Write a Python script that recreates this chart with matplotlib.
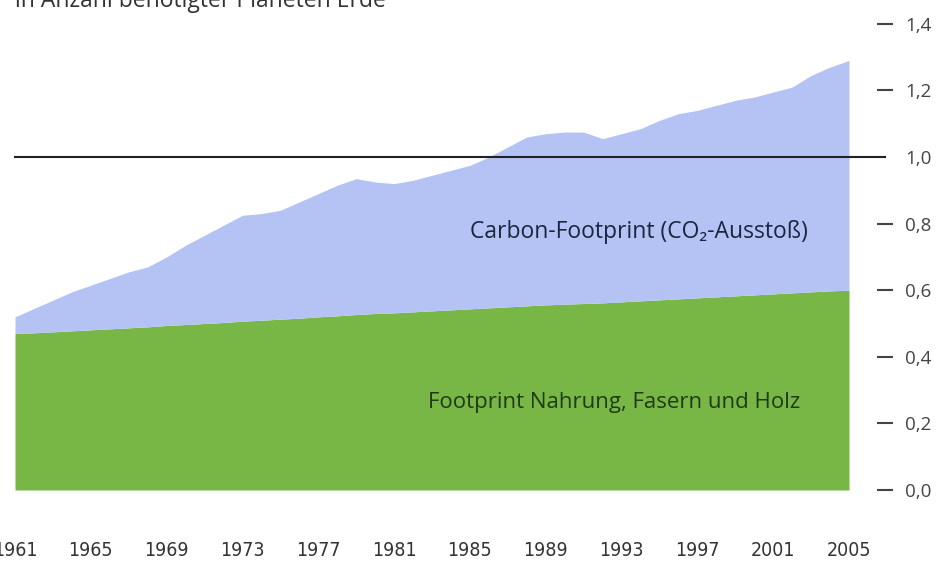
import matplotlib
matplotlib.use("Agg")
import matplotlib.pyplot as plt
import matplotlib.transforms as mtransforms

years = list(range(1961, 2006))
total = [0.52, 0.545, 0.57, 0.595, 0.615, 0.635, 0.655, 0.67, 0.70, 0.735,
         0.765, 0.795, 0.825, 0.83, 0.84, 0.865, 0.89, 0.915, 0.935, 0.925,
         0.92, 0.93, 0.945, 0.96, 0.975, 1.0, 1.03, 1.06, 1.07, 1.075,
         1.075, 1.055, 1.07, 1.085, 1.11, 1.13, 1.14, 1.155, 1.17, 1.18,
         1.195, 1.21, 1.245, 1.27, 1.29]
food = [0.470, 0.472, 0.475, 0.478, 0.481, 0.484, 0.487, 0.490, 0.494, 0.497,
        0.500, 0.503, 0.507, 0.510, 0.513, 0.516, 0.520, 0.523, 0.527, 0.530,
        0.532, 0.535, 0.538, 0.541, 0.544, 0.547, 0.550, 0.553, 0.556, 0.558,
        0.560, 0.562, 0.565, 0.568, 0.571, 0.574, 0.577, 0.580, 0.583, 0.586,
        0.589, 0.592, 0.595, 0.598, 0.600]
xtick_years = [1961, 1965, 1969, 1973, 1977, 1981, 1985, 1989, 1993, 1997, 2001, 2005]
ytick_vals = [0.0, 0.2, 0.4, 0.6, 0.8, 1.0, 1.2, 1.4]
ytick_labels = ["0,0", "0,2", "0,4", "0,6", "0,8", "1,0", "1,2", "1,4"]
title = "in Anzahl benötigter Planeten Erde"
label_carbon = "Carbon-Footprint (CO₂-Ausstoß)"
label_food = "Footprint Nahrung, Fasern und Holz"

W, H = 943, 566
fig = plt.figure(figsize=(W / 100, H / 100), dpi=100)
fig.patch.set_facecolor("white")
x0, x1 = 15, 849
y0, y14 = 490, 490 - 1.4 * 333
ax = fig.add_axes([x0 / W, (H - y0) / H, (x1 - x0) / W, (y0 - y14) / H])
ax.set_xlim(1961, 2005)
ax.set_ylim(0, 1.4)
ax.set_facecolor("none")

green = "#78b745"
blue = "#b4c3f3"
ax.fill_between(years, 0, food, color=green, lw=0)
ax.fill_between(years, food, total, color=blue, lw=0)

ax.axhline(1.0, xmin=0, xmax=(885 - x0) / (x1 - x0), color="#222222", lw=1.5, clip_on=False)

for s in ["top", "left", "bottom"]:
    ax.spines[s].set_visible(False)
ax.spines["right"].set_position(("outward", 20))
ax.spines["right"].set_visible(False)

ax.set_xticks(xtick_years)
ax.set_xticklabels([str(y) for y in xtick_years],
                   family=["DejaVu Sans"], fontstretch="condensed", fontsize=14, color="#333333")
ax.tick_params(axis="x", length=0, pad=37)

ax.yaxis.tick_right()
ax.set_yticks(ytick_vals)
ax.set_yticklabels(ytick_labels, family=["Open Sans", "DejaVu Sans"], fontsize=13.5, color="#444444")
ax.tick_params(axis="y", which="major", direction="out", length=11.5, width=1.5,
               color="#444444", pad=9, right=True, left=False)
for t, v in zip(ax.yaxis.get_major_ticks(), ytick_vals):
    if abs(v - 1.0) < 1e-9:
        t.tick2line.set_visible(False)
        t.tick1line.set_visible(False)

trans = mtransforms.blended_transform_factory(ax.transAxes, ax.transData)
ax.text((808 - x0) / (x1 - x0), 0.775, label_carbon, transform=trans, ha="right", va="center",
        fontsize=16.5, color="#1c2540", family=["Open Sans", "DejaVu Sans"])
ax.text((800 - x0) / (x1 - x0), 0.264, label_food, transform=trans, ha="right", va="center",
        fontsize=16, color="#1f3a18", family=["Open Sans", "DejaVu Sans"])

fig.text(15 / W, 1 - 7 / H, title, ha="left", va="baseline", fontsize=16.5,
         color="#333333", family=["Open Sans", "DejaVu Sans"])

fig.savefig("out.png", dpi=100, facecolor="white")
